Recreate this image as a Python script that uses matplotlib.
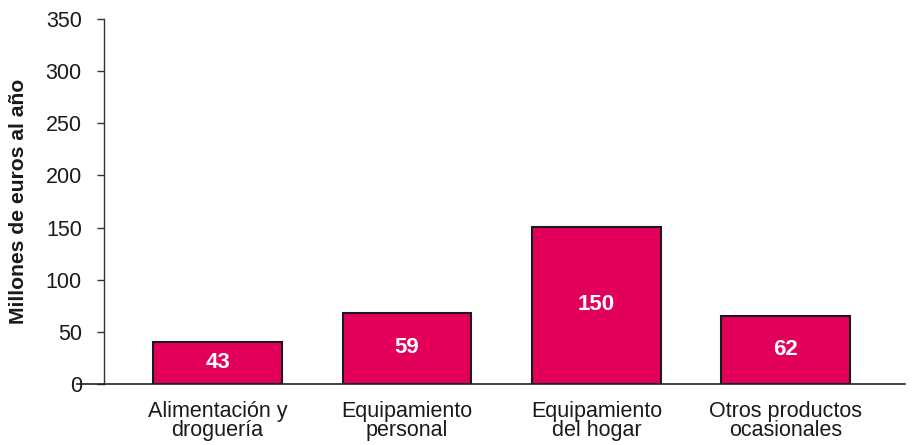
import matplotlib
matplotlib.use("Agg")
import matplotlib.pyplot as plt

# === Data ===
categories = ["Alimentación y\ndroguería", "Equipamiento\npersonal",
              "Equipamiento\ndel hogar", "Otros productos\nocasionales"]
bar_heights = [40, 68, 151, 65]      # heights as drawn in the picture
bar_labels = ["43", "59", "150", "62"]  # numbers printed on the bars
y_ticks = [0, 50, 100, 150, 200, 250, 300, 350]

plt.rcParams['font.family'] = ['Liberation Sans', 'DejaVu Sans']

fig = plt.figure(figsize=(9.15, 4.45), dpi=100)
ax = fig.add_axes([104 / 915, 1 - 384 / 445, 801 / 915, 365 / 445])

x = range(len(categories))
bars = ax.bar(x, bar_heights, width=0.68, color='#E2005A',
              edgecolor='#1a1a1a', linewidth=1.5, zorder=3)

# Value labels inside the bars
for rect, lab in zip(bars, bar_labels):
    ax.text(rect.get_x() + rect.get_width() / 2, rect.get_height() / 2 + 1, lab,
            ha='center', va='center', color='white', fontsize=16,
            fontweight='bold', zorder=4)

ax.set_xlim(-0.6, 3.63)
ax.set_ylim(0, 350)
ax.set_yticks(y_ticks)
ax.set_xticks(list(x))
ax.set_xticklabels(categories, fontsize=15.5, color='#1a1a1a', linespacing=0.88)
ax.tick_params(axis='x', length=0, pad=12)
ax.tick_params(axis='y', length=5, width=1, color='#333333', pad=11,
               labelsize=15.5, labelcolor='#1a1a1a')

ax.set_ylabel("Millones de euros al año", fontsize=15.2, fontweight='bold',
              color='#1a1a1a')
ax.yaxis.set_label_coords(-0.095, 0.5)

# Spines: only left, and a baseline that runs a bit past the y axis
for side in ['top', 'right', 'bottom']:
    ax.spines[side].set_visible(False)
ax.spines['left'].set_color('#333333')
ax.spines['left'].set_linewidth(1)
ax.plot([-0.034, 1.0], [0, 0], transform=ax.get_yaxis_transform(),
        color='#222222', linewidth=1.2, clip_on=False, zorder=5)

fig.savefig("out.png", dpi=100)
